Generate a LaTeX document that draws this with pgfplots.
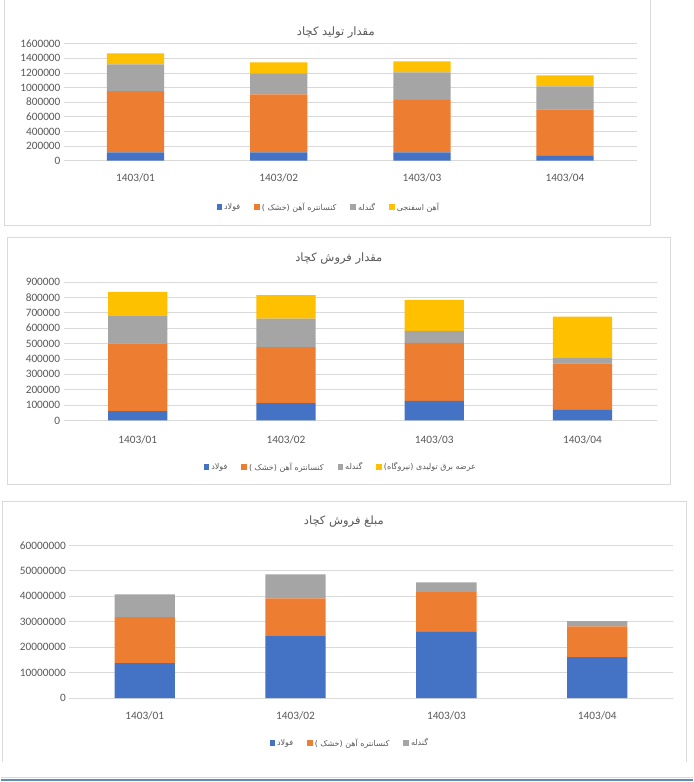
\documentclass[border=0pt]{standalone}
\usepackage{pgfplots}
\pgfplotsset{compat=1.18}
\usepackage{fontspec}
\setmainfont{Carlito}
\newfontfamily\fa[Script=Arabic]{DejaVu Sans}
\TeXXeTstate=1
\definecolor{cblue}{HTML}{4472C4}
\definecolor{corange}{HTML}{ED7D31}
\definecolor{cgray}{HTML}{A5A5A5}
\definecolor{cyellow}{HTML}{FFC000}
\definecolor{gridc}{HTML}{D9D9D9}
\definecolor{framec}{HTML}{D9D9D9}
\definecolor{tickc}{HTML}{595959}
\definecolor{bottomc}{HTML}{5B8DB5}
\newcommand{\FA}[1]{{\fa\beginR #1\endR}}
\pgfplotsset{kchart/.style={
  scale only axis, anchor=south west, ybar stacked, bar width=0.4,
  xmin=-0.5, xmax=3.5, ymin=0,
  xtick={0,1,2,3}, xticklabels={1403/01,1403/02,1403/03,1403/04},
  axis line style={draw=none}, major tick length=0pt, tick style={draw=none},
  ymajorgrids, grid style={gridc, line width=0.8pt},
  scaled y ticks=false,
  yticklabel style={/pgf/number format/fixed, /pgf/number format/1000 sep={}},
  /pgf/number format/assume math mode=true,
  tick label style={font=\fontsize{11.3}{13}\selectfont, text=tickc},
  legend style={draw=none, fill=none, legend columns=-1, font=\fontsize{8}{10}\selectfont, text=tickc,
    /tikz/every even column/.append style={column sep=12pt}},
  legend image code/.code={\fill[#1] (0pt,-2.8pt) rectangle (5.6pt,2.8pt);},
  clip=false
}}
\begin{document}
\begin{tikzpicture}
\path[fill=white] (0pt,0pt) rectangle (692pt,782pt);
% frames
\draw[framec, line width=0.8pt] (3pt,782pt) -- (3pt,557pt) -- (650pt,557pt) -- (650pt,782pt);
\draw[framec, line width=0.8pt] (6.7pt,298pt) rectangle (669.3pt,544.7pt);
\draw[framec, line width=0.8pt] (1pt,20pt) -- (1pt,281pt) -- (685.3pt,281pt) -- (685.3pt,20pt);
\draw[gridc, line width=0.8pt] (0pt,5pt) -- (692pt,5pt);
\draw[bottomc, line width=2pt] (0pt,2.5pt) -- (692pt,2.5pt);
% titles
\node[text=tickc, font=\fontsize{11.5}{13}\selectfont] at (335pt,750pt) {\FA{مقدار تولید کچاد}};
\node[text=tickc, font=\fontsize{11.5}{13}\selectfont] at (338pt,524pt) {\FA{مقدار فروش کچاد}};
\node[text=tickc, font=\fontsize{11.5}{13}\selectfont] at (343pt,261pt) {\FA{مبلغ فروش کچاد}};
% chart 1
\begin{axis}[kchart, at={(63pt,621.7pt)}, width=573pt, height=117pt,
  ymax=1600000, ytick distance=200000, xticklabel style={yshift=-10pt},
  legend style={at={(axis description cs:0.4625,-0.399)}, anchor=center}]
\addplot[fill=cblue, draw=none] coordinates {(0,114000) (1,114000) (2,114000) (3,64000)};
\addplot[fill=corange, draw=none] coordinates {(0,838000) (1,793000) (2,716000) (3,638000)};
\addplot[fill=cgray, draw=none] coordinates {(0,365000) (1,287000) (2,378000) (3,314000)};
\addplot[fill=cyellow, draw=none] coordinates {(0,151000) (1,151000) (2,150000) (3,151000)};
\legend{\FA{فولاد}, \FA{کنسانتره آهن (خشک )}, \FA{گندله}, \FA{آهن اسفنجی}}
\end{axis}
% chart 2
\begin{axis}[kchart, at={(62.7pt,361.7pt)}, width=593.3pt, height=138.6pt,
  ymax=900000, ytick distance=100000, xticklabel style={yshift=-12pt},
  legend style={at={(axis description cs:0.4674,-0.337)}, anchor=center}]
\addplot[fill=cblue, draw=none] coordinates {(0,60000) (1,112000) (2,127000) (3,69000)};
\addplot[fill=corange, draw=none] coordinates {(0,440000) (1,364000) (2,377000) (3,302000)};
\addplot[fill=cgray, draw=none] coordinates {(0,178000) (1,185000) (2,78000) (3,39000)};
\addplot[fill=cyellow, draw=none] coordinates {(0,157000) (1,154000) (2,201000) (3,264000)};
\legend{\FA{فولاد}, \FA{کنسانتره آهن (خشک )}, \FA{گندله}, \FA{عرضه برق تولیدی (نیروگاه)}}
\end{axis}
% chart 3
\begin{axis}[kchart, at={(68.3pt,84pt)}, width=603.7pt, height=152.7pt,
  ymax=60000000, ytick distance=10000000, xticklabel style={yshift=-10pt},
  legend style={at={(axis description cs:0.465,-0.295)}, anchor=center}]
\addplot[fill=cblue, draw=none] coordinates {(0,13700000) (1,24300000) (2,26000000) (3,16100000)};
\addplot[fill=corange, draw=none] coordinates {(0,18100000) (1,14900000) (2,15600000) (3,12100000)};
\addplot[fill=cgray, draw=none] coordinates {(0,9000000) (1,9400000) (2,3900000) (3,2000000)};
\legend{\FA{فولاد}, \FA{کنسانتره آهن (خشک )}, \FA{گندله}}
\end{axis}
\end{tikzpicture}
\end{document}
